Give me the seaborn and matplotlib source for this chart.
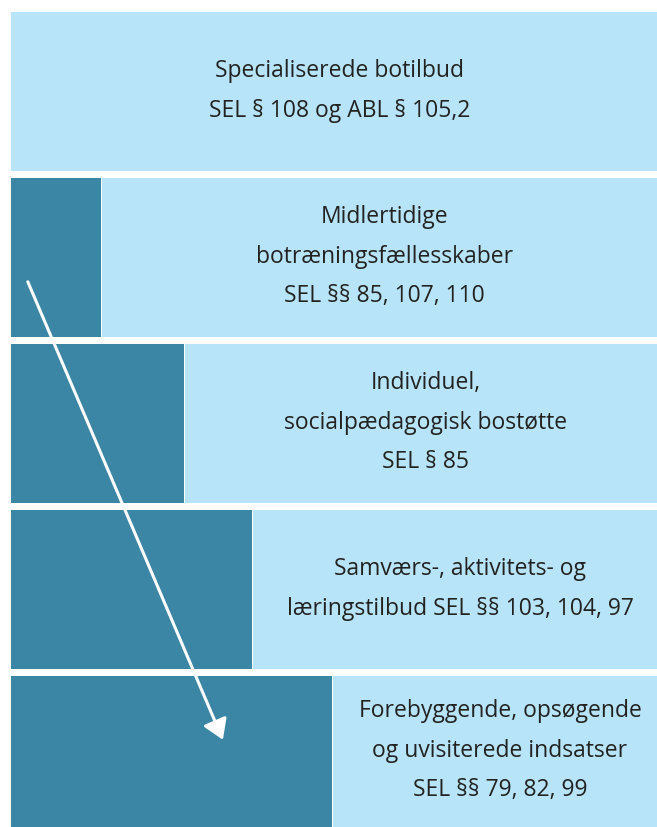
import matplotlib
matplotlib.use('Agg')
import matplotlib.pyplot as plt
import seaborn as sns
import pandas as pd
from matplotlib.patches import FancyArrowPatch

# Bands (top to bottom) and how far the dark bar reaches into each one
labels = [
    'Specialiserede botilbud\nSEL § 108 og ABL § 105,2',
    'Midlertidige\nbotræningsfællesskaber\nSEL §§ 85, 107, 110',
    'Individuel,\nsocialpædagogisk bostøtte\nSEL § 85',
    'Samværs-, aktivitets- og\nlæringstilbud SEL §§ 103, 104, 97',
    'Forebyggende, opsøgende\nog uvisiterede indsatser\nSEL §§ 79, 82, 99',
]
band_ids = ['b1', 'b2', 'b3', 'b4', 'b5']
full_width = [660, 660, 660, 660, 660]
dark_width = [0, 90, 173, 241, 321]

light = '#b8e4f9'
dark = '#3b86a5'

df = pd.DataFrame({'band': band_ids, 'full': full_width, 'dark': dark_width})
df['gap'] = [d + 1 if d > 0 else 0 for d in dark_width]

sns.set_theme(style='white')
plt.rcParams['font.family'] = ['Open Sans', 'DejaVu Sans']

fig = plt.figure(figsize=(6.57, 8.28), dpi=100, facecolor='white')
ax = fig.add_axes([11 / 657, 0, 646 / 657, 815 / 828])

bar_h = 159 / 166
for col, c in [('full', light), ('gap', 'white'), ('dark', dark)]:
    sns.barplot(data=df, x=col, y='band', orient='h', color=c, width=bar_h,
                saturation=1, linewidth=0, edgecolor='none', ax=ax)
for p in ax.patches:
    p.set_clip_on(False)

ylim_bottom = 4.431
ax.set_xlim(0, 646)
ax.set_ylim(ylim_bottom, -bar_h / 2)
ax.axis('off')

for i, (lab, d) in enumerate(zip(labels, dark_width)):
    xc = (d + 1 + 646) / 2 + 5
    top, bot = i - bar_h / 2, min(i + bar_h / 2, ylim_bottom)
    yc = (top + bot) / 2 - 0.01
    ax.text(xc, yc, lab, ha='center', va='center', fontsize=16.5,
            color='#222222', linespacing=1.86)

# white arrow running down through the dark bars
arrow = FancyArrowPatch((0.026, 0.669), (0.328, 0.107), transform=ax.transAxes,
                        arrowstyle='-|>,head_length=0.6,head_width=0.38',
                        mutation_scale=20, color='white', lw=2.2,
                        shrinkA=0, shrinkB=0)
ax.add_patch(arrow)

fig.savefig('out.png', dpi=100, facecolor='white')
